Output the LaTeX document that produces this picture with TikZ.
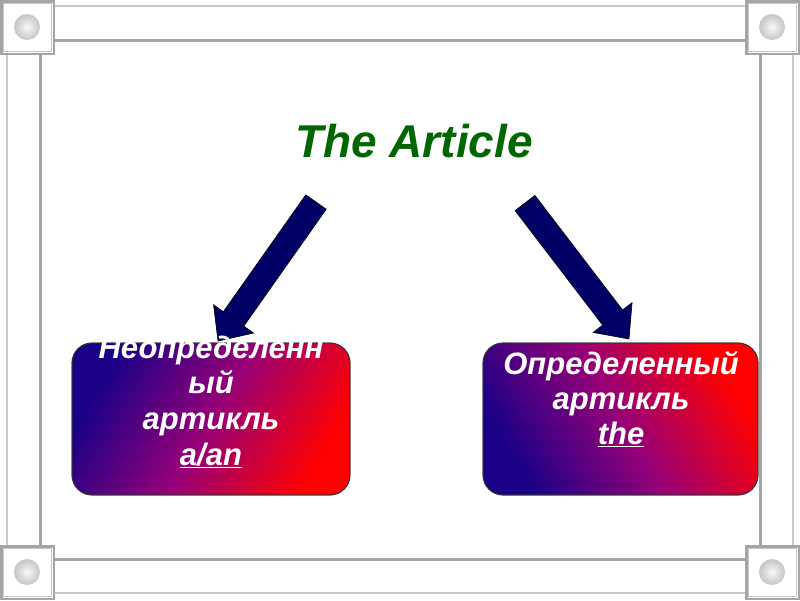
\documentclass[tikz,border=0pt]{standalone}
\usepackage{fontspec}
\setmainfont{Liberation Sans}
\usetikzlibrary{calc}
\definecolor{navyarrow}{RGB}{0,0,102}
\definecolor{titlegreen}{RGB}{0,102,0}
\definecolor{boxnavy}{RGB}{25,0,135}
\definecolor{boxmid}{RGB}{150,0,120}
\definecolor{boxred}{RGB}{255,0,0}
\definecolor{framegray}{RGB}{165,165,165}
\definecolor{framelight}{RGB}{200,200,200}
\begin{document}
\begin{tikzpicture}[x=1pt,y=-1pt,
  barthick/.style={draw=framegray,line width=3pt},
  barthin/.style={draw=framelight,line width=1.5pt},
  cornerbox/.style={fill=white,draw=framegray,line width=2.5pt},
  cornerinner/.style={draw=framelight,line width=1pt},
  knob/.style={inner color=gray!5,outer color=gray!45},
  blockarrow/.style={fill=navyarrow,draw=black,line width=0.6pt,line join=miter},
  gradbox/.style={rounded corners=20pt,draw=black!80,line width=0.8pt},
  boxtext/.style={text=white,font=\fontsize{31}{36}\selectfont\bfseries\itshape,inner sep=0pt,anchor=base},
]
\useasboundingbox (0,0) rectangle (800,600);
\fill[white] (0,0) rectangle (800,600);

% frame bars
\draw[barthin]  (55,6) -- (745,6);
\draw[barthick] (55,40) -- (745,40);
\draw[barthick] (55,559) -- (745,559);
\draw[barthin]  (55,593) -- (745,593);
\draw[barthin]  (7,55) -- (7,545);
\draw[barthick] (40,55) -- (40,545);
\draw[barthick] (760,55) -- (760,545);
\draw[barthin]  (793,55) -- (793,545);

% corner squares
\foreach \cx/\cy in {0/0,745/0,0/545,745/545}{
  \draw[cornerbox] (\cx+1.25,\cy+1.25) rectangle (\cx+53.75,\cy+53.75);
  \draw[cornerinner] (\cx+3.5,\cy+3.5) rectangle (\cx+51.5,\cy+51.5);
  \shade[knob] (\cx+27,\cy+27) circle (13);
}

% arrows
\coordinate (lt) at (316,202);
\coordinate (lh) at (218,341);
\coordinate (rt) at (525,203);
\coordinate (rh) at (629,339);
\foreach \t/\h in {lt/lh,rt/rh}{
  \coordinate (hb) at ($(\h)!27pt!(\t)$);
  \draw[blockarrow]
    ($(\t)!12.5pt!90:(\h)$) -- ($(hb)!12.5pt!-90:(\t)$) -- ($(hb)!24.5pt!-90:(\t)$)
    -- (\h) -- ($(hb)!24.5pt!90:(\t)$) -- ($(hb)!12.5pt!90:(\t)$)
    -- ($(\t)!12.5pt!-90:(\h)$) -- cycle;
}

% boxes
\shade[gradbox,top color=boxnavy,bottom color=boxred,middle color=boxmid,shading angle=60]
  (72,343) rectangle (350,495);
\draw[gradbox] (72,343) rectangle (350,495);
\shade[gradbox,top color=boxred,bottom color=boxnavy,middle color=boxmid,shading angle=-60]
  (483,343) rectangle (758,495);
\draw[gradbox] (483,343) rectangle (758,495);

% texts
\node[boxtext] (l1) at (211,358) {Неопределенн};
\node[boxtext] (l2) at (211,393) {ый};
\node[boxtext] (l3) at (211,429) {артикль};
\node[boxtext] (l4) at (211,465) {\underline{a/an}};
\node[boxtext] (r1) at (621,374) {Определенный};
\node[boxtext] (r2) at (621,409) {артикль};
\node[boxtext] (r3) at (621,444) {\underline{the}};

\node[text=titlegreen,font=\fontsize{46}{52}\selectfont\bfseries\itshape,inner sep=0pt,anchor=base] (title) at (414,157) {The Article};
\end{tikzpicture}
\end{document}
